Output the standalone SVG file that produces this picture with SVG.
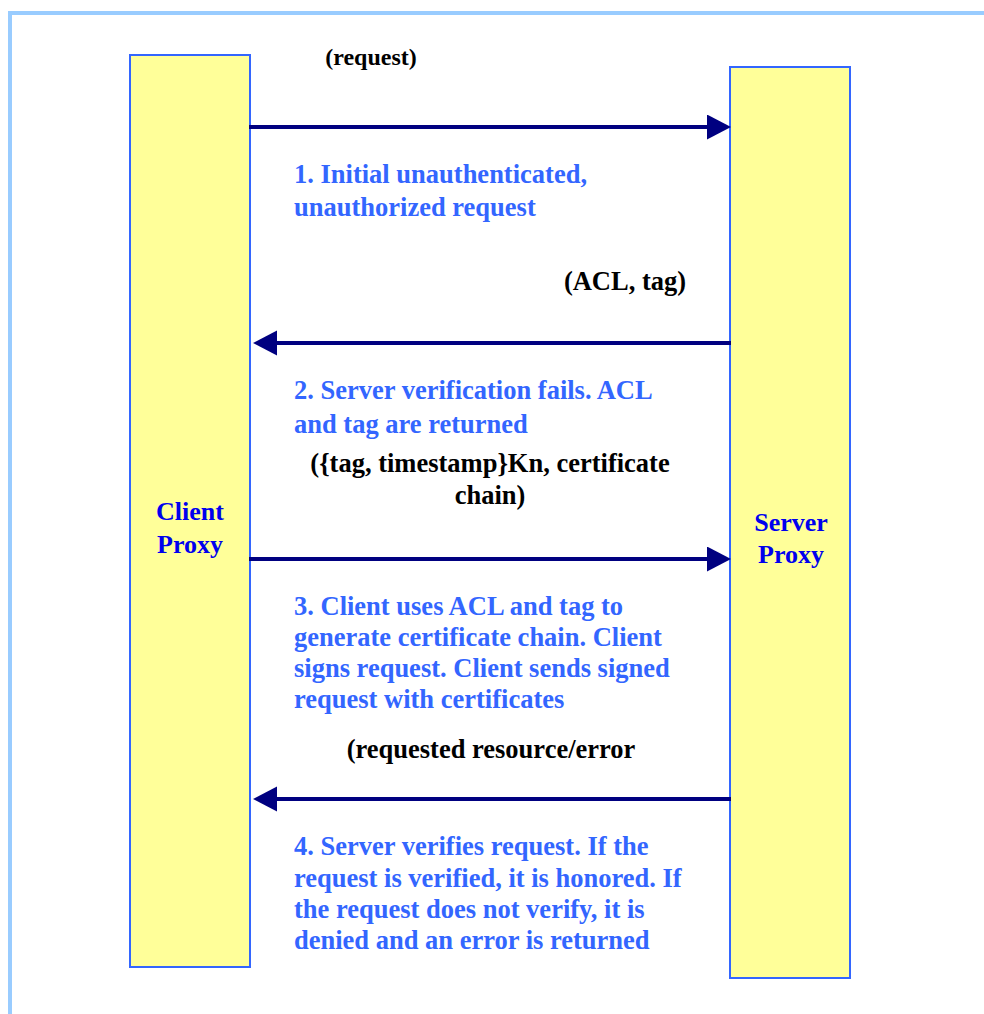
<svg xmlns="http://www.w3.org/2000/svg" width="984" height="1014" viewBox="0 0 984 1014">
  <style>
    .frame { fill: none; stroke: #99ccff; stroke-width: 4; }
    .proxy { fill: #ffff99; stroke: #3366ff; stroke-width: 2; }
    .proxy-label { font-family: "Liberation Serif", "Times New Roman", serif; font-weight: bold; font-size: 26px; fill: #0000ee; text-anchor: middle; }
    .msg { stroke: #000080; stroke-width: 4; fill: none; marker-end: url(#head); }
    .payload { font-family: "Liberation Serif", "Times New Roman", serif; font-weight: bold; font-size: 26.5px; fill: #000000; text-anchor: middle; }
    .step { font-family: "Liberation Serif", "Times New Roman", serif; font-weight: bold; font-size: 26.5px; fill: #3366ff; }
  </style>
  <defs>
    <marker id="head" markerUnits="userSpaceOnUse" markerWidth="26" markerHeight="26" refX="3" refY="12.5" orient="auto">
      <path d="M0,0 L24,12.5 L0,25 Z" fill="#000080"/>
    </marker>
  </defs>

  <rect width="984" height="1014" fill="#ffffff"/>
  <path class="frame" d="M10,1014 L10,13 L984,13"/>

  <g id="client-proxy">
    <rect class="proxy" x="130" y="55" width="120" height="912"/>
    <text class="proxy-label" x="190" y="520">Client</text>
    <text class="proxy-label" x="190" y="553">Proxy</text>
  </g>

  <g id="server-proxy">
    <rect class="proxy" x="730" y="67" width="120" height="911"/>
    <text class="proxy-label" x="791" y="531">Server</text>
    <text class="proxy-label" x="791" y="563">Proxy</text>
  </g>

  <g id="connectors">
    <line class="msg" x1="249" y1="127" x2="710" y2="127"/>
    <line class="msg" x1="731" y1="343" x2="274" y2="343"/>
    <line class="msg" x1="249" y1="559" x2="710" y2="559"/>
    <line class="msg" x1="731" y1="799" x2="274" y2="799"/>
  </g>

  <g id="payloads">
    <text class="payload" x="371" y="65" style="font-size:24px">(request)</text>
    <text class="payload" x="625" y="290">(ACL, tag)</text>
    <text class="payload" x="490" y="472">({tag, timestamp}Kn, certificate</text>
    <text class="payload" x="490" y="504">chain)</text>
    <text class="payload" x="491" y="758">(requested resource/error</text>
  </g>

  <g id="steps">
    <text class="step" x="294" y="183">1. Initial unauthenticated,</text>
    <text class="step" x="294" y="216">unauthorized request</text>
    <text class="step" x="294" y="399">2. Server verification fails. ACL</text>
    <text class="step" x="294" y="433">and tag are returned</text>
    <text class="step" x="294" y="615">3. Client uses ACL and tag to</text>
    <text class="step" x="294" y="646">generate certificate chain. Client</text>
    <text class="step" x="294" y="677">signs request. Client sends signed</text>
    <text class="step" x="294" y="708">request with certificates</text>
    <text class="step" x="294" y="855">4. Server verifies request. If the</text>
    <text class="step" x="294" y="887">request is verified, it is honored. If</text>
    <text class="step" x="294" y="918">the request does not verify, it is</text>
    <text class="step" x="294" y="949">denied and an error is returned</text>
  </g>
</svg>
